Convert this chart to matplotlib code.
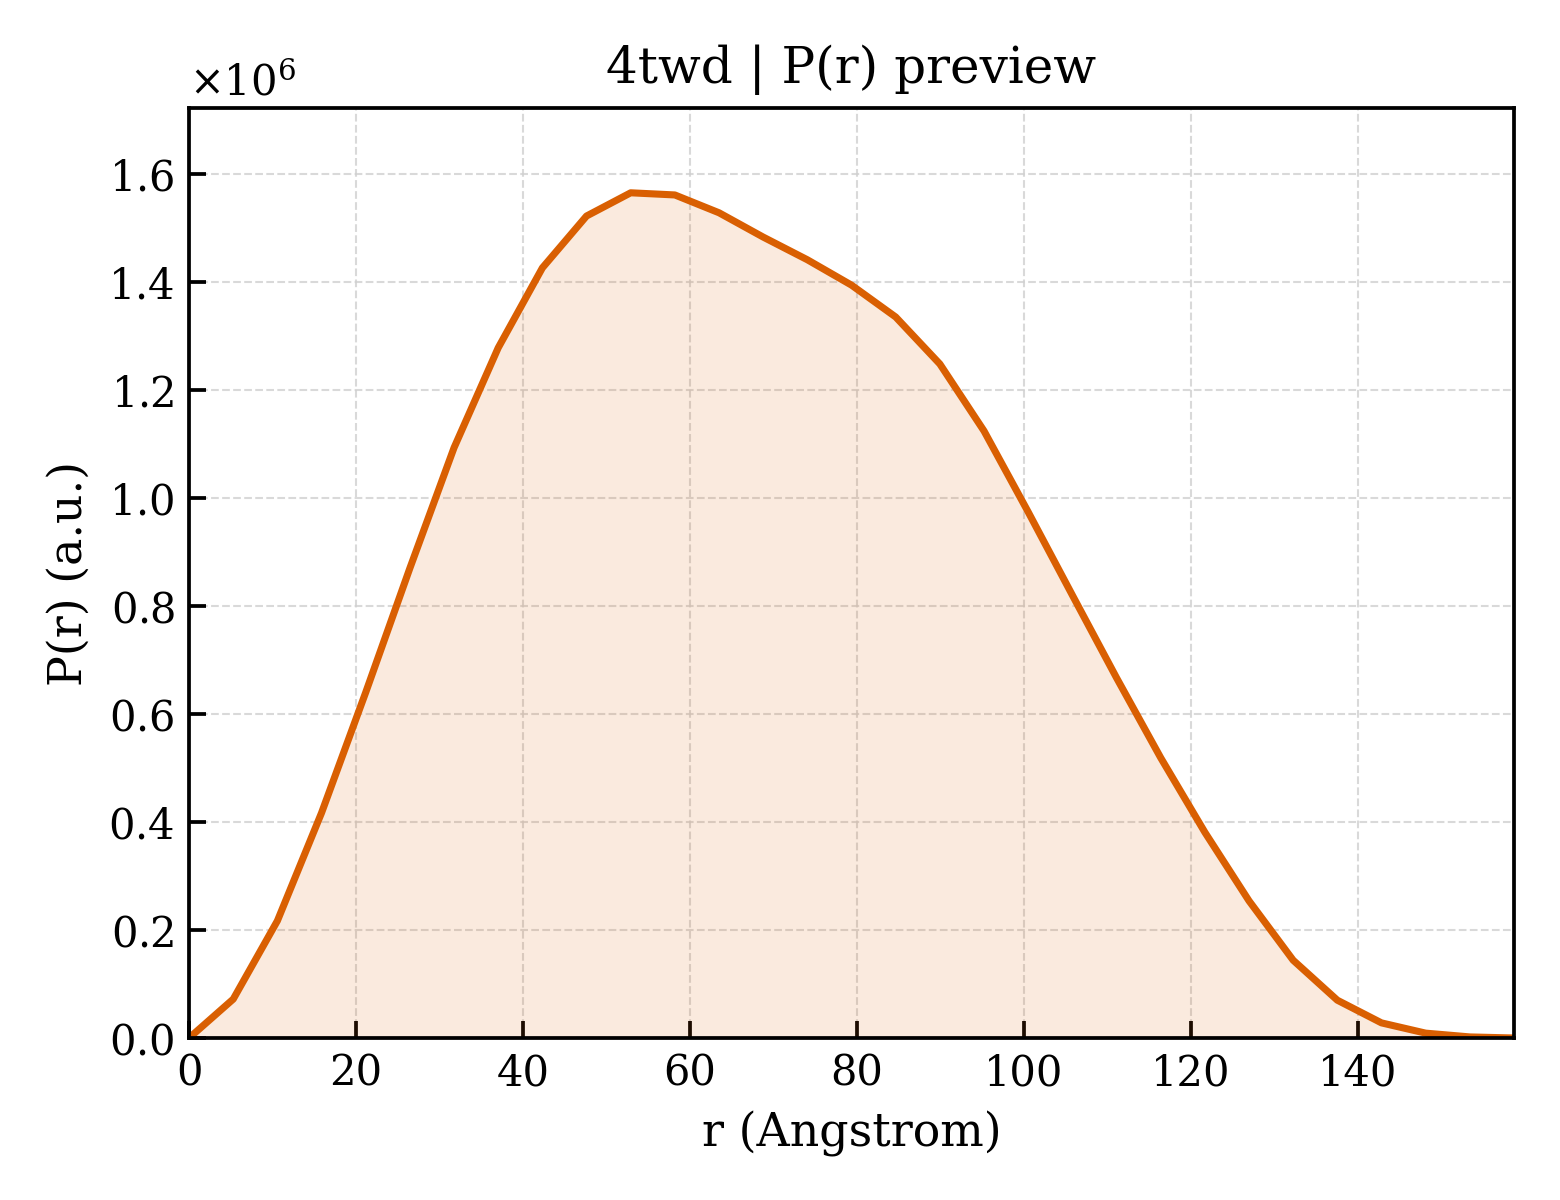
import matplotlib
matplotlib.use("Agg")
import matplotlib.pyplot as plt
from matplotlib.ticker import ScalarFormatter

plt.rcParams['font.family'] = ['DejaVu Serif']
plt.rcParams['mathtext.fontset'] = 'dejavuserif'

r_values = [0.0, 5.29, 10.58, 15.87, 21.16, 26.45, 31.74, 37.03, 42.32, 47.61,
            52.90, 58.19, 63.48, 68.77, 74.06, 79.35, 84.64, 89.93, 95.22, 100.51,
            105.80, 111.09, 116.38, 121.67, 126.96, 132.25, 137.54, 142.83, 148.12,
            153.41, 158.70]
pr_values = [0.0, 0.072, 0.217, 0.417, 0.640, 0.870, 1.093, 1.278, 1.426, 1.522,
             1.565, 1.561, 1.528, 1.483, 1.441, 1.394, 1.335, 1.248, 1.124, 0.974,
             0.820, 0.667, 0.519, 0.381, 0.254, 0.144, 0.070, 0.028, 0.009,
             0.002, 0.0]
pr_values = [v * 1e6 for v in pr_values]

title = "4twd | P(r) preview"
xlabel = "r (Angstrom)"
ylabel = "P(r) (a.u.)"
color = "#d95f02"

fig = plt.figure(figsize=(5.2, 4.0), dpi=300)
ax = fig.add_axes([0.1212, 0.135, 0.8493, 0.775])
ax.fill_between(r_values, pr_values, 0, color=color, alpha=0.13, linewidth=0)
ax.plot(r_values, pr_values, color=color, linewidth=1.7)
ax.set_xlim(0, max(r_values))
ax.set_ylim(0, 1.722e6)
ax.grid(True, linestyle='--', linewidth=0.5, color='#d0d0d0', alpha=0.8)
ax.set_axisbelow(True)
ax.tick_params(direction='in', labelsize=10, length=4, width=0.9)
for s in ax.spines.values():
    s.set_linewidth(0.9)
fmt = ScalarFormatter(useMathText=True)
fmt.set_powerlimits((0, 0))
ax.yaxis.set_major_formatter(fmt)
ax.yaxis.get_offset_text().set_fontsize(10)
ax.set_xlabel(xlabel, fontsize=11)
ax.set_ylabel(ylabel, fontsize=11)
ax.set_title(title, fontsize=12)
fig.savefig("out.png", dpi=300)
